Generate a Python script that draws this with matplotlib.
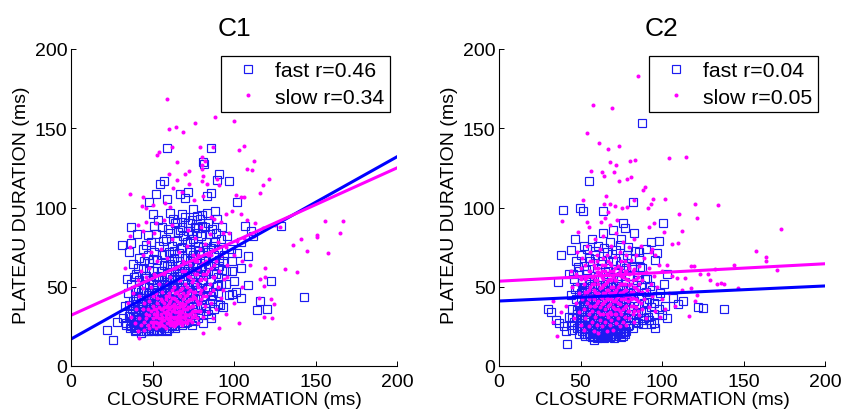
import numpy as np
import matplotlib
matplotlib.use('Agg')
import matplotlib.pyplot as plt

plt.rcParams['font.family'] = ['Liberation Sans', 'DejaVu Sans']

# values, (closure, plateau) in ms
c1_fast_tail = [(58.7,137.4),(85.9,137.4),(81.2,129),(81.8,127.5),(91,121),(97,116.5),(89.8,117.6),(56.9,116.5),(54.4,115),(85.7,109),
    (72,110),(66.9,108.6),(52,108.6),(58.7,105.4),(48,103.7),(70,105.8),(83.2,107.5),(101.6,103.7),(75,99),(88.3,98),
    (50.5,96),(60.7,96.6),(80.2,95.3),(64.8,91),(36.8,88),(92.9,88),(106.7,88.6),(128.6,88.6),(110.2,85.4),(111.9,82.3),
    (40.3,83),(31.3,76.6),(36.8,77.4),(35.8,71.8),(108.8,69.6),(104.3,61.9),(37.8,64.6),(122.5,53.5),(108.8,51.1),(100,53.5),
    (143.1,43.8),(120,36),(114,35.4),(116,41.3),(104.3,42.7),(98.6,45.5),(93.5,37),(90.4,39.2),(21.9,23),(25.6,16.7),
    (28,28),(34.2,55),(96,82),(89,84),(78,87),(74,92),(68,88),(84,90),(98,74),(102,71),
    (93,66),(88,70),(104,78),(99,60),(95,52),(90,56),(101,47),(86,44),(84,33),(78,30)]
c1_fast_core = [(32,30),(33,38),(34,26),(35,46),(36,24),(36,33),(37,52),(38,41),(38,28),(39,22),
    (39,35),(39,48),(40,58),(40,26),(40,31),(41,44),(41,37),(41,24),(42,54),(42,29),
    (42,68),(43,34),(43,21),(43,47),(43,40),(44,27),(44,62),(44,74),(45,32),(45,25),
    (45,51),(45,43),(46,36),(46,57),(46,22),(46,29),(47,70),(47,40),(47,33),(47,26),
    (48,47),(48,65),(48,24),(48,37),(49,54),(49,30),(49,78),(49,42),(50,27),(50,60),
    (50,34),(50,23),(51,48),(51,72),(51,39),(51,31),(52,25),(52,56),(52,83),(52,44),
    (53,36),(53,67),(53,29),(53,51),(54,22),(54,41),(54,76),(54,33),(55,60),(55,47),
    (55,26),(55,38),(56,88),(56,54),(56,31),(56,70),(57,43),(57,24),(57,35),(57,64),
    (58,50),(58,28),(58,80),(58,40),(59,58),(59,33),(59,22),(59,46),(60,72),(60,37),
    (60,27),(60,53),(61,84),(61,42),(61,31),(61,63),(62,48),(62,25),(62,76),(62,36),
    (63,56),(63,29),(63,40),(63,68),(64,90),(64,45),(64,33),(64,24),(65,60),(65,52),
    (65,37),(65,79),(66,27),(66,47),(66,71),(66,41),(67,86),(67,32),(67,57),(67,64),
    (68,49),(68,36),(68,26),(68,75),(69,43),(69,82),(69,55),(69,30),(70,68),(70,38),
    (70,61),(70,94),(71,47),(71,28),(71,78),(71,52),(72,35),(72,85),(72,64),(72,42),
    (73,72),(73,57),(73,31),(73,90),(74,46),(74,26),(74,68),(74,39),(75,80),(75,53),
    (75,60),(75,34),(76,88),(76,44),(76,73),(76,29),(77,65),(77,50),(77,38),(77,84),
    (78,56),(78,76),(78,42),(79,70),(79,33),(79,93),(79,48),(80,62),(80,82),(80,37),
    (81,54),(81,75),(81,27),(82,67),(82,44),(82,88),(83,58),(83,35),(83,78),(84,50),
    (84,72),(85,63),(85,40),(85,83),(86,55),(86,30),(87,76),(87,47),(88,65),(88,36),
    (89,58),(90,74),(90,46),(91,63),(92,52),(92,80),(94,70),(95,60),(97,45),(99,66)]
# the packed lower-left corner of the C1 cloud
c1_fast_dense = [(37,25),(38,31),(39,38),(40,23),(40,44),(41,28),(41,33),(42,36),(42,24),(43,30),
    (43,43),(44,22),(44,33),(44,39),(45,27),(45,35),(45,47),(46,24),(46,31),(46,40),
    (47,22),(47,29),(47,36),(47,45),(48,26),(48,33),(48,41),(48,50),(49,23),(49,28),
    (49,37),(49,46),(50,25),(50,31),(50,40),(50,52),(51,22),(51,28),(51,35),(51,44),
    (52,26),(52,33),(52,40),(52,49),(53,23),(53,31),(53,38),(53,46),(54,27),(54,36),
    (54,44),(54,55),(55,23),(55,30),(55,35),(55,42),(56,25),(56,37),(56,47),(56,60),
    (57,28),(57,32),(57,39),(57,52),(58,23),(58,34),(58,44),(58,56),(59,26),(59,38),
    (59,50),(59,63),(60,24),(60,31),(60,42),(60,58),(61,28),(61,35),(61,47),(62,30),
    (62,41),(62,55),(62,66),(63,25),(63,34),(63,47),(64,28),(64,38),(64,54),(65,31),
    (65,42),(65,66),(66,34),(66,58),(67,27),(67,40),(67,50),(68,30),(68,44),(68,60),
    (69,35),(69,48),(70,27),(70,42),(70,54),(71,33),(71,60),(72,38),(72,50),(73,44),
    (73,66),(74,32),(74,56),(75,42),(75,70),(76,36),(76,52),(77,60),(78,48),(79,58)]
c1_fast_extra = [(33.5,27.2),(35.4,31.6),(36.7,28.4),(37.6,35.8),(38.8,24.6),(39.4,42.3),(40.7,29.1),(41.3,48.7),(42.6,26.4),(43.4,37.5),
    (44.7,30.8),(45.2,55.6),(46.6,34.9),(47.3,25.3),(47.8,60.4),(48.6,38.7),(49.2,32.4),(50.3,67.2),(51.4,26.6),(52.7,37.2),
    (53.4,56.8),(54.6,24.3),(55.2,46.1),(56.4,34.2),(57.3,70.6),(58.7,29.5),(59.4,41.2),(60.6,64.3),(61.2,25.7),(62.7,50.4),
    (63.4,72.8),(64.6,35.6),(65.3,56.7),(66.6,29.3),(67.2,74.4),(68.7,39.2),(69.4,62.6),(70.6,32.7),(71.3,68.4),(72.6,46.2),
    (73.2,78.6),(74.7,53.3),(75.3,28.4),(76.4,62.7),(77.7,43.2),(78.3,72.4),(79.6,38.3),(80.4,52.6),(81.7,66.2),(82.4,36.7),
    (83.6,48.3),(84.3,64.2),(85.7,74.6),(86.4,42.2),(87.2,58.7),(88.6,78.4),(89.3,50.6),(90.7,66.8),(91.4,38.6),(92.6,60.3),
    (47.4,82.6),(50.7,88.3),(53.6,92.4),(56.3,78.7),(59.6,86.2),(62.3,92.6),(65.7,84.3),(68.4,96.2),(71.6,90.3),(74.3,82.4),
    (77.6,94.7),(80.3,88.6),(83.4,96.4),(86.6,86.2),(89.4,92.6),(44.6,66.3),(41.4,61.6),(38.4,56.3),(46.3,76.2),(35.6,38.4)]
c1_slow_tail = [(58.7,168.5),(88.3,157.3),(100,154.8),(76.1,153.3),(64.2,150.8),(60.1,149.4),(68.9,147.7),(61.8,138),(87.3,138),(79.3,138),
    (106.3,138.8),(103.3,136.5),(53.8,134.8),(53,133.4),(80.2,131.7),(112,129.4),(65,128.5),(82.4,129.2),(80.2,126.8),(80.2,124.1),
    (108,124.5),(110.8,123.7),(72.2,122.9),(69.7,121.4),(60.1,121.2),(81,119.7),(65,117.4),(121.7,118),(80.2,116.5),(89.4,118.2),
    (72.2,114.9),(83.2,114.9),(91,114),(117.6,114),(62.6,112.5),(116,109.4),(68.3,109.6),(36.2,108.6),(44.4,106.5),(81.2,107),
    (101,107.7),(104.1,106.9),(106.3,106.5),(50,101.6),(57.9,103),(75.3,104.6),(43.3,100.8),(46,100),(60.7,100.1),(167,91.7),
    (165,83.7),(155.9,91.7),(151,82.9),(151,81.4),(157.5,71.1),(144.8,72.6),(140.9,80.4),(136,76.6),(138.4,59),(131.3,61.2),
    (119.2,62),(119.2,56.4),(116.2,55),(118.4,50.7),(122.5,42.3),(124.6,39.2),(115.3,43),(118.4,31.2),(123.3,30.3),(103.1,27),
    (90.6,24),(81,20.7),(41.9,17.7),(41,89),(46,91),(44,85),(36,82),(52,90),(57,92),(62,89),
    (95,96),(99,98),(104,96),(108,92),(113,90),(118,87),(125,89),(128,88),(112,82),(106,81),
    (102,79),(97,84),(92,91),(86,94),(36,75),(33,62),(100,70),(105,66),(110,64),(96,56),
    (93,48),(100,40),(105,50),(87,30),(95,33)]
c1_slow_core = [(35,40),(37,31),(38,46),(39,27),(40,36),(41,54),(41,22),(42,30),(42,44),(43,60),
    (43,26),(44,36),(44,49),(44,70),(45,28),(45,40),(45,23),(46,33),(46,56),(46,30),
    (47,78),(47,26),(47,44),(47,36),(48,24),(48,32),(48,62),(48,41),(49,28),(49,50),
    (49,35),(49,72),(50,30),(50,25),(50,44),(50,38),(51,33),(51,58),(51,28),(51,84),
    (52,36),(52,24),(52,46),(52,31),(53,40),(53,27),(53,66),(53,34),(54,30),(54,52),
    (54,37),(54,25),(55,42),(55,33),(55,28),(55,74),(56,36),(56,47),(56,26),(56,31),
    (57,40),(57,58),(57,29),(57,34),(58,24),(58,44),(58,37),(58,31),(59,27),(59,68),
    (59,52),(59,35),(60,40),(60,29),(60,33),(60,46),(61,26),(61,37),(61,56),(61,31),
    (62,43),(62,28),(62,35),(62,80),(63,39),(63,30),(63,50),(63,25),(64,34),(64,62),
    (64,28),(64,42),(65,37),(65,31),(65,47),(65,27),(66,35),(66,54),(66,40),(66,72),
    (67,29),(67,33),(67,44),(67,38),(68,26),(68,60),(68,31),(68,49),(69,36),(69,42),
    (69,28),(69,66),(70,33),(70,52),(70,39),(70,30),(71,45),(71,27),(71,76),(71,36),
    (72,57),(72,32),(72,41),(72,86),(73,29),(73,48),(73,37),(73,64),(74,34),(74,53),
    (74,42),(74,28),(75,70),(75,38),(75,47),(75,31),(76,58),(76,35),(76,81),(76,43),
    (77,30),(77,52),(77,66),(78,39),(78,61),(78,27),(79,46),(79,74),(79,35),(80,55),
    (80,42),(80,88),(81,31),(81,65),(82,49),(82,38),(82,77),(83,58),(83,44),(84,70),
    (84,34),(85,52),(85,83),(86,62),(86,40),(87,73),(87,48),(88,56),(88,93),(89,66),
    (89,36),(90,78),(90,50),(91,60),(92,70),(92,43),(93,84),(94,55),(95,75),(96,64)]
c1_slow_dense = [(50,27),(51,36),(52,28),(53,32),(53,43),(54,27),(55,36),(55,30),(56,29),(56,41),
    (57,25),(57,37),(58,33),(58,42),(59,30),(59,38),(60,27),(60,36),(60,44),(61,33),
    (61,29),(61,41),(62,26),(62,31),(62,38),(62,48),(63,28),(63,36),(63,43),(64,31),
    (64,26),(64,38),(64,46),(65,29),(65,34),(65,41),(66,27),(66,32),(66,37),(66,45),
    (67,31),(67,35),(67,48),(67,54),(68,28),(68,34),(68,40),(69,31),(69,38),(69,46),
    (70,28),(70,36),(70,44),(70,60),(71,32),(71,41),(71,50),(72,29),(72,37),(72,47),
    (73,33),(73,42),(73,56),(74,31),(74,38),(74,60),(75,35),(75,44),(75,54),(76,32),
    (76,47),(76,66),(77,41),(77,58),(78,35),(78,50),(78,70),(79,40),(79,54),(80,48),
    (80,64),(81,44),(81,58),(82,55),(83,66),(84,60),(85,46),(86,70),(87,56),(88,64)]

c2_fast_tail = [(88,153.5),(55.5,117),(82,103.5),(39,98.5),(49.5,100),(51.5,98),(64,98),(100.5,90.5),(76,90),(77.5,87),
    (70,86),(83,84),(46.5,80),(98,79),(93,78),(52,76),(38,70),(44,73),(97,71),(90,74),
    (86,68),(96,67),(36,53),(43,58),(103,58),(101,52),(30,36),(32,34),(122,37),(125,36.5),
    (138,36),(113,41),(110,39),(107,43),(100,32),(103,30),(95,27),(96,24),(42,14),(37,27),
    (40,25),(44,26),(45,23),(35,29),(47,30),(43,31),(41,22),(95,33),(89,30),(84,28)]
c2_fast_core = [(44,45),(45,36),(46,55),(46,28),(47,42),(47,66),(48,33),(48,50),(48,24),(49,38),
    (49,60),(49,20),(50,46),(50,29),(50,70),(51,34),(51,54),(51,22),(52,41),(52,26),
    (52,63),(53,31),(53,48),(53,19),(54,37),(54,58),(54,24),(54,74),(55,44),(55,29),
    (55,21),(56,52),(56,35),(56,66),(57,26),(57,40),(57,18),(57,80),(58,47),(58,31),
    (58,57),(58,23),(59,36),(59,70),(59,43),(59,20),(60,28),(60,51),(60,62),(60,33),
    (61,18),(61,40),(61,25),(61,76),(62,46),(62,30),(62,55),(62,22),(63,36),(63,66),
    (63,27),(63,42),(64,19),(64,50),(64,32),(64,84),(65,59),(65,24),(65,38),(65,45),
    (66,29),(66,72),(66,21),(66,53),(67,35),(67,62),(67,26),(67,41),(68,48),(68,18),
    (68,31),(68,78),(69,56),(69,37),(69,23),(69,44),(70,28),(70,66),(70,20),(70,51),
    (71,34),(71,40),(71,25),(71,59),(72,47),(72,19),(72,31),(72,73),(73,37),(73,54),
    (73,24),(73,43),(74,29),(74,64),(74,21),(74,49),(75,35),(75,80),(75,27),(75,57),
    (76,41),(76,19),(76,32),(76,68),(77,46),(77,24),(77,53),(77,36),(78,29),(78,62),
    (78,42),(78,22),(79,75),(79,33),(79,49),(80,26),(80,57),(80,38),(81,45),(81,30),
    (81,68),(82,35),(82,52),(82,24),(83,41),(83,61),(84,32),(84,48),(85,27),(85,56),
    (85,38),(86,44),(86,72),(87,34),(87,51),(88,29),(88,62),(89,40),(90,47),(90,34),
    (91,55),(92,29),(92,42),(93,37),(94,48),(95,40),(97,44),(98,36),(99,46),(102,38)]
# the packed core of the C2 cloud
c2_fast_dense = [(50,24),(50,35),(50,42),(51,27),(51,31),(51,47),(52,20),(52,35),(52,50),(53,25),
    (53,39),(53,44),(54,20),(54,29),(54,33),(54,48),(55,24),(55,36),(55,54),(56,19),
    (56,28),(56,31),(56,43),(57,22),(57,34),(57,47),(58,19),(58,27),(58,37),(58,52),
    (59,24),(59,31),(59,40),(59,47),(60,20),(60,24),(60,37),(60,44),(61,22),(61,29),
    (61,34),(61,50),(62,18),(62,26),(62,38),(62,42),(63,20),(63,23),(63,31),(63,47),
    (64,23),(64,27),(64,36),(64,43),(65,19),(65,28),(65,33),(65,50),(66,18),(66,24),
    (66,37),(66,47),(67,20),(67,30),(67,44),(67,52),(68,22),(68,26),(68,37),(68,42),
    (69,19),(69,27),(69,33),(69,50),(70,24),(70,35),(70,42),(70,47),(71,19),(71,22),
    (71,30),(71,46),(72,23),(72,27),(72,36),(72,42),(73,20),(73,31),(73,48),(74,25),
    (74,33),(74,40),(75,21),(75,30),(75,44),(76,24),(76,37),(76,50),(77,20),(77,30)]
c2_fast_extra = [(49.6,27.4),(50.7,52.3),(51.4,38.6),(52.6,23.4),(53.3,60.7),(54.7,41.2),(55.4,68.3),(56.6,25.2),(57.3,50.6),(58.6,72.4),
    (59.3,33.7),(60.7,56.2),(61.4,20.6),(62.6,64.3),(63.3,44.7),(64.7,74.2),(65.4,26.3),(66.6,60.2),(67.3,22.6),(68.7,52.3),
    (69.4,70.6),(70.3,31.4),(71.6,66.2),(72.4,55.7),(73.7,27.3),(74.3,76.4),(75.6,48.2),(76.3,60.7),(77.4,40.6),(78.7,70.3),
    (79.3,25.4),(80.6,46.2),(81.4,62.7),(82.7,30.2),(83.3,72.6),(84.6,54.3),(85.3,33.6),(86.7,62.4),(87.4,44.3),(88.6,26.7),
    (89.3,55.2),(90.6,40.4),(91.3,30.6),(92.7,50.2),(93.4,26.3),(46.4,48.6),(47.6,35.3),(48.7,62.4),(45.3,58.2),(44.6,30.4),
    (62.4,18.4),(64.4,17.6),(66.3,19.6),(68.4,20.4),(70.6,17.8),(72.7,21.6),(74.6,18.4),(58.3,16.7),(60.4,17.4),(76.7,21.4)]
c2_slow_tail = [(85.1,183.2),(57.9,164.7),(69.1,163),(54,147),(61.1,140.7),(66.7,136.7),(73.8,139),(114.5,131.7),(104.1,131),(83.4,130.2),
    (80.4,129.3),(68.3,128.5),(71.6,126.8),(56.2,122.8),(63.4,122.2),(70.6,122.2),(64.2,119.9),(81,119),(78.5,118.2),(73.8,116.5),
    (89.8,112.7),(88.1,111),(65.8,107),(94.7,105.4),(101.6,105.4),(51.5,104.5),(82.8,104.5),(93,102.2),(120.3,102.2),(134.6,101.4),
    (64.2,102),(68.1,102),(71.2,101),(75.3,99.7),(78.3,100.5),(91.4,99.7),(66.7,97.2),(110.6,95.7),(65,93.4),(121.7,93.4),
    (38.6,91.7),(72.2,92.3),(54,90.9),(62.6,90.9),(55.4,87.7),(68.1,89.2),(95.1,90),(92.2,87.7),(112.3,85.4),(48.5,84.5),
    (101,84.5),(172.8,86.2),(157.7,72.6),(164,68.6),(164,66),(170.4,60.6),(144,63.7),(117.6,62.9),(119.4,62.9),(132.7,61.2),
    (128,58),(123.1,58),(129.6,54),(133.7,51.5),(136,52.4),(138.2,51.5),(146.4,49),(113.9,55.5),(109.2,55.5),(118,49.2),
    (121.7,44.8),(120,41.2),(116.4,31.8),(41.1,38),(33.1,41.2),(33.1,27.8),(35.6,19.1),(37.8,34),(106,77),(110,77.5),
    (93,72),(96,70),(103,64),(100,60),(106,57),(112,48),(104,46),(108,38),(102,36),(99,31)]
c2_slow_core = [(44,60),(45,50),(46,30),(47,58),(47,40),(48,72),(48,52),(49,34),(49,46),(50,62),
    (50,26),(50,55),(51,42),(51,68),(52,36),(52,52),(52,23),(53,47),(53,64),(53,30),
    (54,40),(54,76),(54,56),(55,33),(55,48),(55,25),(56,60),(56,38),(56,44),(56,72),
    (57,28),(57,52),(57,35),(57,66),(58,42),(58,22),(58,57),(58,48),(59,31),(59,80),
    (59,62),(59,38),(60,45),(60,26),(60,54),(60,70),(61,34),(61,41),(61,59),(61,21),
    (62,49),(62,29),(62,74),(62,37),(63,56),(63,43),(63,25),(63,64),(64,33),(64,51),
    (64,40),(64,82),(65,46),(65,28),(65,60),(65,36),(66,53),(66,22),(66,70),(66,43),
    (67,31),(67,58),(67,38),(67,48),(68,26),(68,65),(68,55),(68,34),(69,76),(69,42),
    (69,50),(69,29),(70,60),(70,37),(70,46),(70,23),(71,54),(71,33),(71,69),(71,41),
    (72,27),(72,58),(72,48),(72,84),(73,36),(73,63),(73,44),(73,30),(74,52),(74,72),
    (74,39),(74,25),(75,57),(75,46),(75,33),(75,66),(76,42),(76,78),(76,28),(76,52),
    (77,37),(77,60),(77,48),(77,31),(78,70),(78,44),(78,55),(78,26),(79,35),(79,64),
    (79,41),(80,51),(80,30),(80,75),(80,58),(81,38),(81,47),(81,67),(82,33),(82,54),
    (82,43),(83,61),(83,28),(83,80),(84,49),(84,37),(84,70),(85,56),(85,41),(86,32),
    (86,63),(87,46),(87,76),(88,36),(88,54),(89,68),(89,42),(90,59),(90,30),(91,48),
    (92,62),(92,37),(93,52),(94,44),(94,74),(95,57),(96,35),(97,50),(98,64),(100,42)]
c2_slow_dense = [(52,44),(53,55),(54,47),(55,42),(55,60),(56,50),(56,66),(57,44),(57,56),(58,38),
    (58,52),(58,64),(59,47),(59,54),(60,40),(60,59),(60,66),(61,46),(61,52),(61,62),
    (62,33),(62,44),(62,58),(63,39),(63,50),(63,60),(64,46),(64,55),(64,68),(65,41),
    (65,52),(65,64),(66,33),(66,48),(66,58),(67,42),(67,54),(67,66),(68,39),(68,46),
    (68,60),(69,33),(69,54),(69,64),(70,41),(70,50),(70,56),(71,36),(71,47),(71,62),
    (72,33),(72,42),(72,54),(73,40),(73,50),(73,58),(74,35),(74,46),(74,60),(75,42),
    (75,52),(75,62),(76,36),(76,47),(76,56),(77,42),(77,52),(77,66),(78,38),(78,48),
    (78,60),(79,45),(79,54),(80,35),(80,44),(80,62),(81,42),(81,52),(82,38),(82,47),
    (82,60),(83,35),(83,50),(84,42),(84,55),(85,35),(85,48),(86,52),(87,40),(88,47)]

fit_x = [0, 200]
c1_fast_fit = [17, 132]
c1_slow_fit = [32, 125]
c2_fast_fit = [41, 50.5]
c2_slow_fit = [53.5, 64.5]

titles = ['C1', 'C2']
fast_labels = ['fast r=0.46', 'fast r=0.04']
slow_labels = ['slow r=0.34', 'slow r=0.05']
ticks = [0, 50, 100, 150, 200]

panels = [(c1_fast_tail + c1_fast_core + c1_fast_dense + c1_fast_extra, c1_slow_tail + c1_slow_core + c1_slow_dense, c1_fast_fit, c1_slow_fit),
          (c2_fast_tail + c2_fast_core + c2_fast_dense + c2_fast_extra, c2_slow_tail + c2_slow_core + c2_slow_dense, c2_fast_fit, c2_slow_fit)]

W, H = 843, 410
fig = plt.figure(figsize=(W/100, H/100), dpi=100)
lefts = [71, 499]

for i in range(2):
    fast, slow, ffit, sfit = panels[i]
    fast = np.array(fast)
    slow = np.array(slow)
    ax = fig.add_axes([lefts[i]/W, 1-367/H, 326/W, 317/H])
    ax.plot(fast[:,0], fast[:,1], 's', mfc='none', mec='#1c1cf0', mew=0.85, ms=6.3, label=fast_labels[i], clip_on=False)
    ax.plot(slow[:,0], slow[:,1], 'o', color='#ff00ff', ms=2.9, mew=0, label=slow_labels[i])
    ax.plot(fit_x, ffit, color='#0000ff', lw=2.2)
    ax.plot(fit_x, sfit, color='#ff00ff', lw=2.2)
    ax.set_xlim(0, 200)
    ax.set_ylim(0, 200)
    ax.set_xticks(ticks)
    ax.set_yticks(ticks)
    ax.spines['top'].set_visible(False)
    ax.spines['right'].set_visible(False)
    ax.tick_params(direction='in', length=3.5, width=0.7, labelsize=14, pad=2.5)
    ax.tick_params(axis='x', pad=5)
    ax.set_xlabel('CLOSURE FORMATION (ms)', fontsize=13.8)
    ax.xaxis.set_label_coords(0.5, -0.107, transform=ax.transAxes)
    ax.xaxis.label.set_va('center')
    ax.set_ylabel('PLATEAU DURATION (ms)', fontsize=14)
    ax.yaxis.set_label_coords(-0.153, 0.51, transform=ax.transAxes)
    ax.yaxis.label.set_va('center')
    ax.set_title(titles[i], fontsize=19, pad=10)
    leg = ax.legend(loc='upper right', bbox_to_anchor=(0.978, 0.978), fontsize=15.3, fancybox=False, framealpha=1,
                    edgecolor='black', borderaxespad=0, labelspacing=0.35, handletextpad=0.3, borderpad=0.25)
    leg.get_frame().set_linewidth(0.9)

fig.savefig('out.png', dpi=100)
